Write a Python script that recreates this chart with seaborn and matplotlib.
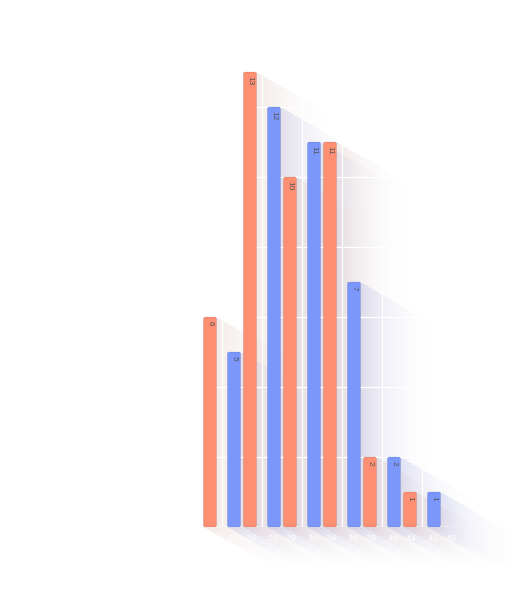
import numpy as np
import pandas as pd
import matplotlib
matplotlib.use('Agg')
import matplotlib.pyplot as plt
import seaborn as sns
from matplotlib.patches import FancyBboxPatch

# ---- data ----
AGE_GROUPS = ['15 - 19', '20 - 24', '25 - 29', '30 - 34', '35 - 39', '40 - 44', '45 - 49']
TICK_LABELS = ['', '20 - 24', '25 - 29', '30 - 34', '35 - 39', '40 - 44', '45 - 49']
SERIES = ['Series 1', 'Series 2']
BLUE_VALUES = [0, 5, 12, 11, 7, 2, 1]
ORANGE_VALUES = [6, 13, 10, 11, 2, 1, 0]

BLUE = '#7B97FC'
ORANGE = '#FF8F73'
SHADOW_COLORS = {BLUE: (0.45, 0.48, 0.80), ORANGE: (0.74, 0.56, 0.52)}

sns.set_theme(style='white')
plt.rcParams['font.family'] = ['Liberation Sans', 'DejaVu Sans']

df = pd.DataFrame({
    'group': AGE_GROUPS * 2,
    'value': BLUE_VALUES + ORANGE_VALUES,
    'series': [SERIES[0]] * len(AGE_GROUPS) + [SERIES[1]] * len(AGE_GROUPS),
})

W, H = 515, 601
fig = plt.figure(figsize=(W / 100, H / 100), dpi=100)
ax = fig.add_axes([202 / W, 74 / H, 260 / W, 490 / H], zorder=1)
ax.patch.set_alpha(0)

sns.barplot(data=df, x='group', y='value', hue='series', order=AGE_GROUPS,
            hue_order=SERIES, palette=[BLUE, ORANGE], width=0.8, gap=0.1875,
            saturation=1, legend=False, ax=ax)

ax.set_xlim(0, 6.5)
ax.set_ylim(0, 14)

# swap plain rectangles for slightly rounded ones
bars = []
for p in list(ax.patches):
    x, y = p.get_x(), p.get_y()
    w, h = p.get_width(), p.get_height()
    fc = matplotlib.colors.to_hex(p.get_facecolor())
    p.remove()
    if h <= 0:
        continue
    fb = FancyBboxPatch((x, y), w, h, boxstyle='round,pad=0,rounding_size=0.05',
                        mutation_aspect=1.14, facecolor=fc,
                        edgecolor=(0, 0, 0, 0.10), linewidth=0.6, zorder=3)
    ax.add_patch(fb)
    bars.append((x, y, w, h, fc))
    ax.annotate(f'{h:g}', (x + w / 2, h), xytext=(0, -3), textcoords='offset points',
                rotation=-90, ha='center', va='top', fontsize=6, color='#555555',
                zorder=4)

# grid: white lines that only show up over the shadows
ax.set_yticks(range(0, 15, 2))
ax.set_yticklabels([])
ax.set_xticks(range(len(AGE_GROUPS)))
ax.set_xticklabels(TICK_LABELS, color='white', fontsize=6.5)
ax.set_xticks(np.arange(0.5, 7, 1), minor=True)
ax.tick_params(which='both', length=0, pad=5)
ax.grid(axis='y', color='white', linewidth=0.9)
ax.grid(axis='x', which='minor', color='white', linewidth=0.9)
ax.grid(axis='x', which='major', visible=False)
ax.set_xlabel('')
ax.set_ylabel('')
for sp in ax.spines.values():
    sp.set_visible(False)
ax.axhline(0, color='white', linewidth=1.0, zorder=2)

# long diagonal shadows, computed per pixel
yy, xx = np.mgrid[0:H, 0:W] + 0.5
theta = np.deg2rad(30)
c, s = np.cos(theta), np.sin(theta)
L = 92.0
A0 = 0.18
prem = np.zeros((H, W, 3))
alpha = np.zeros((H, W))
for x, y, w, h, fc in bars:
    (x0, y0), (x1, y1) = ax.transData.transform([[x, y], [x + w, y + h]])
    top, bot = H - y1, H - y0
    lo = np.maximum.reduce([np.zeros_like(xx), (xx - x1) / c, (yy - bot) / s])
    hi = np.minimum((xx - x0) / c, (yy - top) / s)
    a = np.where(lo <= hi, A0 * np.clip(1 - lo / L, 0, 1) ** 2, 0.0)
    col = np.array(SHADOW_COLORS[fc.upper()])
    prem = col * a[..., None] + prem * (1 - a[..., None])
    alpha = a + alpha * (1 - a)

rgb = np.where(alpha[..., None] > 0, prem / np.maximum(alpha[..., None], 1e-9), 1.0)
img = np.dstack([rgb, alpha])

sax = fig.add_axes([0, 0, 1, 1], zorder=0)
sax.imshow(img, extent=(0, W, 0, H), origin='upper', interpolation='bilinear')
sax.set_xlim(0, W)
sax.set_ylim(0, H)
sax.axis('off')

fig.savefig('out.png', dpi=100)
